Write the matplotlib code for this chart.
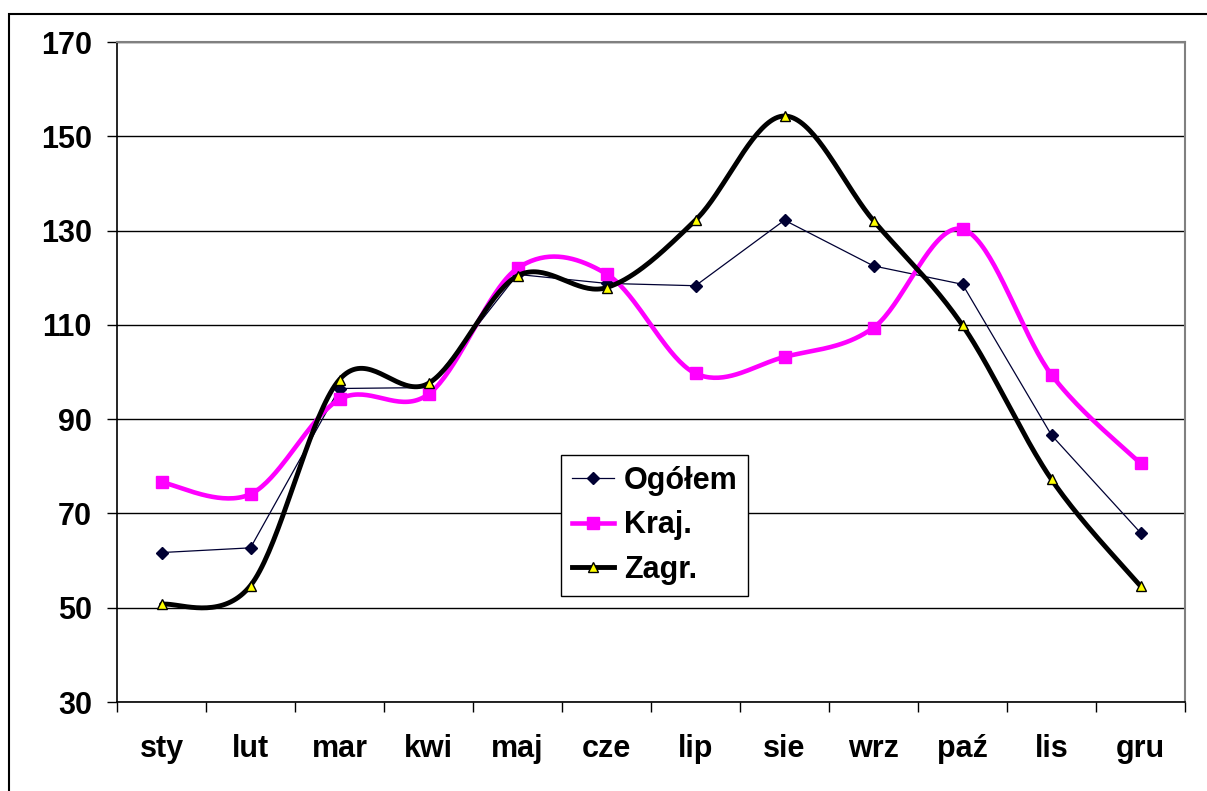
import numpy as np
import matplotlib
matplotlib.use("Agg")
import matplotlib.pyplot as plt
from matplotlib.patches import Rectangle
from matplotlib.ticker import FixedLocator
from matplotlib.lines import Line2D

months = ["sty", "lut", "mar", "kwi", "maj", "cze", "lip", "sie", "wrz", "paź", "lis", "gru"]
ogolem = [61.7, 62.7, 96.5, 96.7, 120.7, 118.8, 118.3, 132.2, 122.5, 118.6, 86.6, 65.9]
kraj = [76.6, 74.1, 94.2, 95.3, 122.0, 120.8, 99.7, 103.2, 109.4, 130.3, 99.4, 80.6]
zagr = [50.7, 54.7, 98.4, 97.6, 120.4, 117.9, 132.2, 154.3, 132.1, 109.9, 77.2, 54.6]
yticks = [30, 50, 70, 90, 110, 130, 150, 170]

plt.rcParams['font.family'] = ['Liberation Sans', 'DejaVu Sans']
plt.rcParams['font.weight'] = 'bold'

FS = 22


def smooth(xs, ys, n=40):
    xs = np.asarray(xs, float)
    ys = np.asarray(ys, float)
    P = np.column_stack([xs, ys])
    out = []
    m = len(P)
    for i in range(m - 1):
        p0 = P[i - 1] if i > 0 else P[i]
        p1 = P[i]
        p2 = P[i + 1]
        p3 = P[i + 2] if i + 2 < m else P[i + 1]
        c1 = p1 + (p2 - p0) / 6.0
        c2 = p2 - (p3 - p1) / 6.0
        t = np.linspace(0, 1, n)[:, None]
        seg = ((1 - t) ** 3) * p1 + 3 * ((1 - t) ** 2) * t * c1 + 3 * (1 - t) * t ** 2 * c2 + t ** 3 * p2
        if i > 0:
            seg = seg[1:]
        out.append(seg)
    arr = np.vstack(out)
    return arr[:, 0], arr[:, 1]


W, H = 1207, 791
fig = plt.figure(figsize=(W / 100, H / 100), dpi=100)
ax = fig.add_axes([117 / W, 1 - 702 / H, (1185 - 117) / W, (702 - 42) / H])

x = np.arange(len(months))

# Ogółem: straight thin line with diamonds
ax.plot(x, ogolem, color='#000033', lw=0.9, marker='D', ms=6,
        mfc='#000033', mec='#000033', zorder=3, clip_on=False)

# Kraj: smoothed magenta with squares
sx, sy = smooth(x, kraj)
ax.plot(sx, sy, color='#FF00FF', lw=3.3, zorder=4, solid_capstyle='round')
ax.plot(x, kraj, ls='none', marker='s', ms=9, mfc='#FF00FF', mec='#FF00FF', zorder=4, clip_on=False)

# Zagr: smoothed black with yellow triangles
sx, sy = smooth(x, zagr)
ax.plot(sx, sy, color='black', lw=3.5, zorder=5, solid_capstyle='round')
ax.plot(x, zagr, ls='none', marker='^', ms=7.5, mfc='#FFFF00', mec='black', mew=1.0, zorder=6, clip_on=False)

ax.set_xlim(-0.5, len(months) - 0.5)
ax.set_ylim(30, 170)
ax.set_yticks(yticks)
ax.set_yticklabels([str(v) for v in yticks])
ax.set_xticks(x)
ax.set_xticklabels(months)
ax.xaxis.set_minor_locator(FixedLocator(np.arange(-0.5, len(months), 1.0)))

ax.tick_params(axis='y', direction='out', length=7, width=1, pad=11, labelsize=FS, colors='black')
ax.tick_params(axis='x', which='major', length=0, pad=23, labelsize=FS)
ax.tick_params(axis='x', which='minor', direction='out', length=7, width=1)
for lab in ax.get_xticklabels() + ax.get_yticklabels():
    lab.set_fontweight('bold')

ax.grid(axis='y', color='black', lw=1.0, zorder=1)
ax.set_axisbelow(True)
ax.spines['left'].set_color('black')
ax.spines['left'].set_linewidth(1.2)
ax.spines['bottom'].set_color('black')
ax.spines['bottom'].set_linewidth(1.2)
ax.spines['top'].set_color('#808080')
ax.spines['top'].set_linewidth(1.5)
ax.spines['right'].set_color('#808080')
ax.spines['right'].set_linewidth(1.5)

# Legend
handles = [
    Line2D([], [], color='#000033', lw=0.9, marker='D', ms=6, mfc='#000033', mec='#000033'),
    Line2D([], [], color='#FF00FF', lw=3.3, marker='s', ms=9, mfc='#FF00FF', mec='#FF00FF'),
    Line2D([], [], color='black', lw=3.5, marker='^', ms=7.5, mfc='#FFFF00', mec='black'),
]
leg = ax.legend(handles, ['Ogółem', 'Kraj.', 'Zagr.'], loc='upper left',
                bbox_to_anchor=((561 - 117) / 1068, (702 - 455) / 660),
                frameon=True, fancybox=False, shadow=False, framealpha=1,
                edgecolor='black', prop={'size': FS, 'weight': 'bold'},
                handlelength=1.4, handletextpad=0.3, labelspacing=0.48,
                borderpad=0.35, borderaxespad=0.0)
leg.get_frame().set_linewidth(1.0)
leg.set_zorder(10)

# Outer chart border
fig.patches.append(Rectangle((9 / W, -0.1), 2.0, (1 - 14 / H) + 0.1, transform=fig.transFigure,
                             fill=False, edgecolor='black', lw=1.5))

fig.savefig('out.png', dpi=100)
